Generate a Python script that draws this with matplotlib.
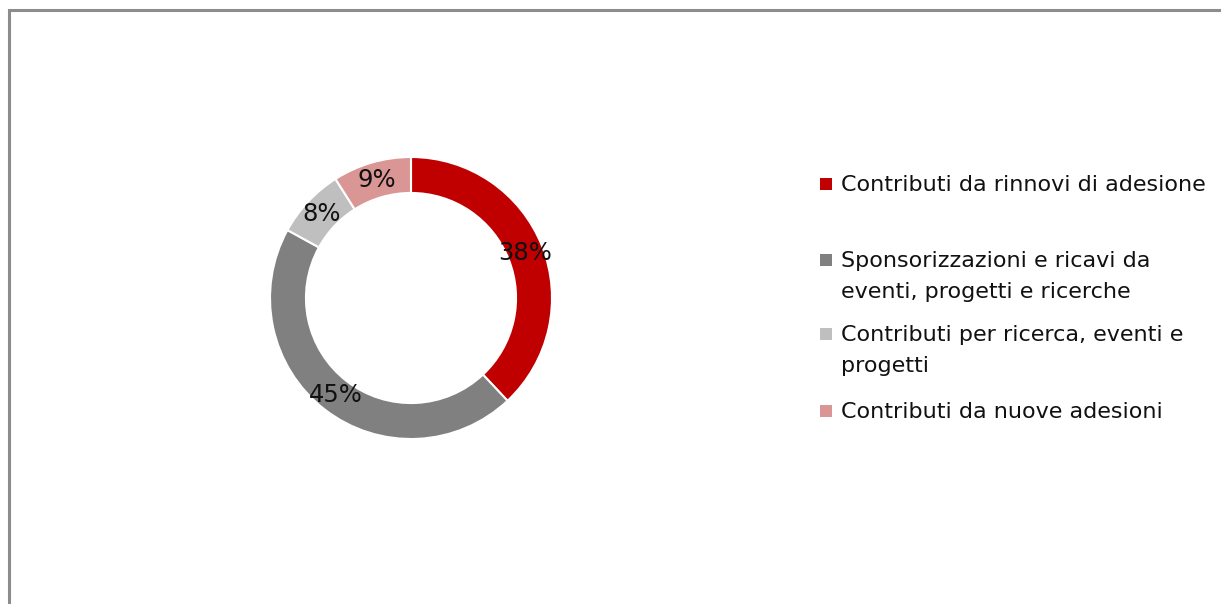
import matplotlib
matplotlib.use("Agg")
import matplotlib.pyplot as plt
from matplotlib.patches import Rectangle

categories = [
    "Contributi da rinnovi di adesione",
    "Sponsorizzazioni e ricavi da\neventi, progetti e ricerche",
    "Contributi per ricerca, eventi e\nprogetti",
    "Contributi da nuove adesioni",
]
values = [38, 45, 8, 9]
colors = ["#C00000", "#808080", "#BFBFBF", "#D99694"]

W, H = 1221, 604
fig = plt.figure(figsize=(W / 100, H / 100), dpi=100)
fig.patch.set_facecolor("white")

# outer frame (continues beyond right and bottom edges)
fig.patches.append(Rectangle((8.5 / W, -0.2), 1.5, 1.2 - 9.5 / H, transform=fig.transFigure,
                             fill=False, edgecolor="#8C8C8C", linewidth=2.2))

cx, cy, r = 411, 298, 141
ax = fig.add_axes([(cx - r) / W, (H - cy - r) / H, 2 * r / W, 2 * r / H])
wedges, texts, autotexts = ax.pie(
    values, colors=colors, startangle=90, counterclock=False,
    autopct=lambda p: f"{p:.0f}%", pctdistance=0.872,
    wedgeprops=dict(width=0.255, edgecolor="white", linewidth=1.5),
    textprops=dict(fontsize=17.5, color="#111111"),
)
ax.set_xlim(-1, 1)
ax.set_ylim(-1, 1)
ax.set_aspect("equal")
ax.axis("off")

# legend (manual, markers aligned with first line of each entry)
legend_base = [191, 267, 341, 418]
line_gap = 31
for lab, col, yb in zip(categories, colors, legend_base):
    fig.patches.append(Rectangle((820 / W, 1 - (yb - 1) / H), 12 / W, 12 / H,
                                 transform=fig.transFigure, facecolor=col, edgecolor="none"))
    for i, line in enumerate(lab.split("\n")):
        fig.text(841 / W, 1 - (yb + i * line_gap) / H, line, fontsize=16,
                 va="baseline", ha="left", color="#111111")

fig.savefig("out.png", dpi=100, facecolor="white")
